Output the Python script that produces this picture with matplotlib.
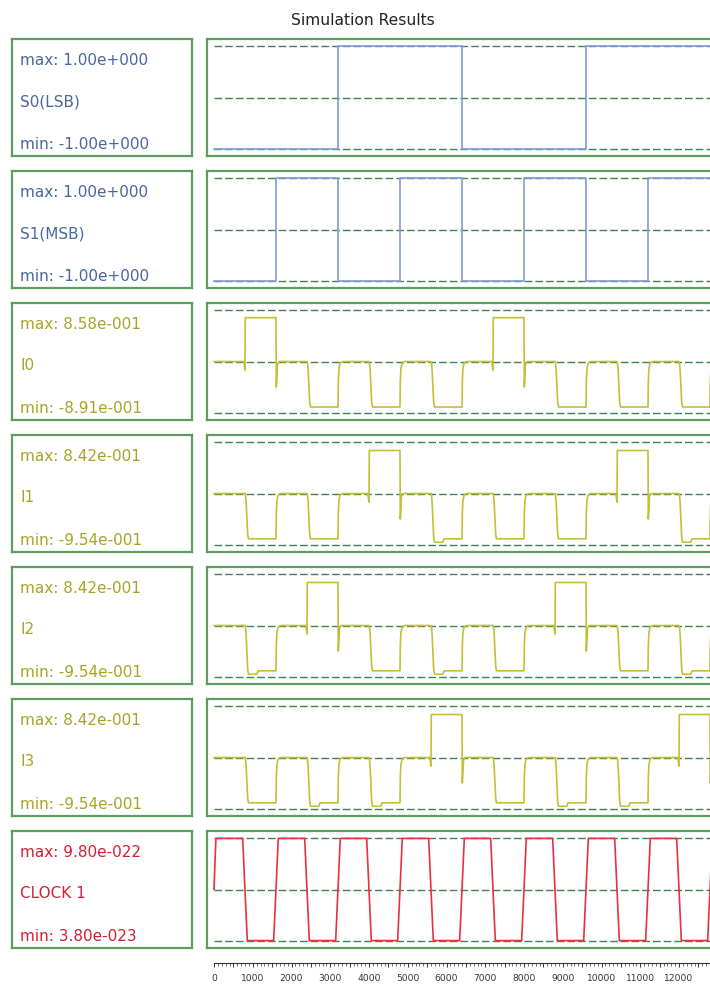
import matplotlib
matplotlib.use("Agg")
import matplotlib.pyplot as plt
from matplotlib.ticker import MultipleLocator, FuncFormatter

# ---- values ----
slot = 800  # one select slot, in time units
s0_levels = [-1, -1, -1, -1, 1, 1, 1, 1, -1, -1, -1, -1, 1, 1, 1, 1]
s1_levels = [-1, -1, 1, 1, -1, -1, 1, 1, -1, -1, 1, 1, -1, -1, 1, 1]

# per slot: 0 = rest, H = high pulse, L = low pulse, D = low pulse with a deeper start
i0_states = "0H0L0L0L0H0L0L0L"
i1_states = "0L0L0H0D0L0L0H0D"
i2_states = "0D0H0L0D0L0H0L0D"
i3_states = "0L0D0D0H0L0D0D0H"
i_high = [0.858, 0.842, 0.842, 0.842]
i_low = [-0.891, -0.887, -0.887, -0.887]
i_deep = -0.954

clock_states = [1, 0, 1, 0, 1, 0, 1, 0, 1, 0, 1, 0, 1, 0, 1, 0]
clock_max = 9.80e-22
clock_min = 3.80e-23

names = ["S0(LSB)", "S1(MSB)", "I0", "I1", "I2", "I3", "CLOCK 1"]
max_vals = [1.0, 1.0, 0.858, 0.842, 0.842, 0.842, clock_max]
min_vals = [-1.0, -1.0, -0.891, -0.954, -0.954, -0.954, clock_min]

# edge shapes of the I pulses (time offset, fraction of the step done)
fall_dt = [0, 15, 30, 50, 70, 90]
fall_frac = [0, 0.05, 0.2, 0.55, 0.9, 1.0]
rise_dt = [0, 10, 25, 50, 90, 140]
rise_frac = [0, 0.6, 0.85, 0.95, 0.99, 1.0]

W, H = 710, 987
row_tops = [40, 172, 304, 436, 568, 700, 832]
row_h = 117

frame_col = "#5d9d5d"
dash_col = "#3f8150"
blue_line, blue_text = "#7f9bd6", "#48679f"
yel_line, yel_text = "#c2c034", "#a8a326"
red_line, red_text = "#e8303a", "#d42030"


def box(x, y, w, h):
    return [x / W, 1 - (y + h) / H, w / W, h / H]


def fmt(v):
    m, e = f"{v:.2e}".split("e")
    return f"{m}e{int(e):+04d}"


def step_trace(levels):
    t, y = [], []
    for k, lv in enumerate(levels):
        t += [k * slot, (k + 1) * slot]
        y += [lv, lv]
    return t, y


def pulse_trace(states, high, low):
    t, y = [0], [0]
    for k, s in enumerate(states):
        t0, t1 = k * slot, (k + 1) * slot
        if s == "H":
            t += [t0 - 30, t0, t0 + 8, t1, t1 + 8, t1 + 40, t1 + 80]
            y += [0, -0.17, high, high, -0.5, -0.05, 0]
        elif s in "LD":
            bottom = i_deep if s == "D" else low
            t += [t0 + d for d in fall_dt]
            y += [bottom * f for f in fall_frac]
            if s == "D":
                t += [t0 + 300, t0 + 340]
                y += [i_deep, low]
            t += [t1 + d for d in rise_dt]
            y += [low * (1 - f) for f in rise_frac]
    t.append(len(states) * slot + 200)
    y.append(0)
    return t, y


def clock_trace(states, hi, lo):
    mid = (hi + lo) / 2
    t, y = [0, 50], [mid, hi]
    prev = hi
    for k in range(1, len(states) + 1):
        nxt = lo if prev == hi else hi
        t += [k * slot - 60, k * slot + 60]
        y += [prev, nxt]
        prev = nxt
    return t, y


plt.rcParams["font.family"] = "DejaVu Sans"
fig = plt.figure(figsize=(W / 100, H / 100), dpi=100)
fig.text(363 / W, 1 - 25 / H, "Simulation Results", ha="center", va="baseline",
         fontsize=11.2, color="#222222")

traces = [step_trace(s0_levels), step_trace(s1_levels)]
for states, hi, lo in zip([i0_states, i1_states, i2_states, i3_states], i_high, i_low):
    traces.append(pulse_trace(states, hi, lo))
traces.append(clock_trace(clock_states, clock_max, clock_min))
line_cols = [blue_line] * 2 + [yel_line] * 4 + [red_line]
text_cols = [blue_text] * 2 + [yel_text] * 4 + [red_text]

for i, top in enumerate(row_tops):
    # label box
    ax_l = fig.add_axes(box(12, top, 180, row_h))
    ax_l.set_xticks([])
    ax_l.set_yticks([])
    for sp in ax_l.spines.values():
        sp.set_color(frame_col)
        sp.set_linewidth(1.6)
    ax_l.text(0.045, 1 - 25 / row_h, "max: " + fmt(max_vals[i]), transform=ax_l.transAxes,
              va="baseline", fontsize=11, color=text_cols[i])
    ax_l.text(0.045, 1 - 66.5 / row_h, names[i], transform=ax_l.transAxes,
              va="baseline", fontsize=11, color=text_cols[i])
    ax_l.text(0.045, 1 - 109 / row_h, "min: " + fmt(min_vals[i]), transform=ax_l.transAxes,
              va="baseline", fontsize=11, color=text_cols[i])

    # waveform box
    ax = fig.add_axes(box(207, top, 510.75, row_h))
    if i == 6:
        lo, hi = clock_min, clock_max
    else:
        lo, hi = -1.0, 1.0
    mid, half = (hi + lo) / 2, (hi - lo) / 2
    ax.set_xlim(-180, 13000)
    ax.set_ylim(mid - 1.145 * half, mid + 1.145 * half)
    ax.set_xticks([])
    ax.set_yticks([])
    for sp in ax.spines.values():
        sp.set_color(frame_col)
        sp.set_linewidth(1.6)
    ax.hlines([lo, mid, hi], 0, 13000, colors=dash_col, linestyles=(0, (5.5, 2.2)),
              linewidth=1.0, zorder=1)
    t, y = traces[i]
    ax.plot(t, y, color=line_cols[i], linewidth=1.2, zorder=2)

# time ruler
ax_r = fig.add_axes(box(214, 963, 503.75, 1))
ax_r.set_xlim(0, 13000)
ax_r.set_yticks([])
for name in ["left", "right", "top"]:
    ax_r.spines[name].set_visible(False)
ax_r.spines["bottom"].set_color("#333333")
ax_r.spines["bottom"].set_linewidth(0.8)
ax_r.xaxis.set_major_locator(MultipleLocator(500))
ax_r.xaxis.set_minor_locator(MultipleLocator(100))
ax_r.xaxis.set_major_formatter(
    FuncFormatter(lambda v, p: f"{int(v)}" if v % 1000 == 0 and v <= 12000 else ""))
ax_r.tick_params(axis="x", which="major", length=3.2, width=0.7, pad=4, labelsize=6.6,
                 colors="#333333")
ax_r.tick_params(axis="x", which="minor", length=1.8, width=0.5, colors="#333333")
ax_r.patch.set_visible(False)

fig.savefig("out.png", dpi=100)
